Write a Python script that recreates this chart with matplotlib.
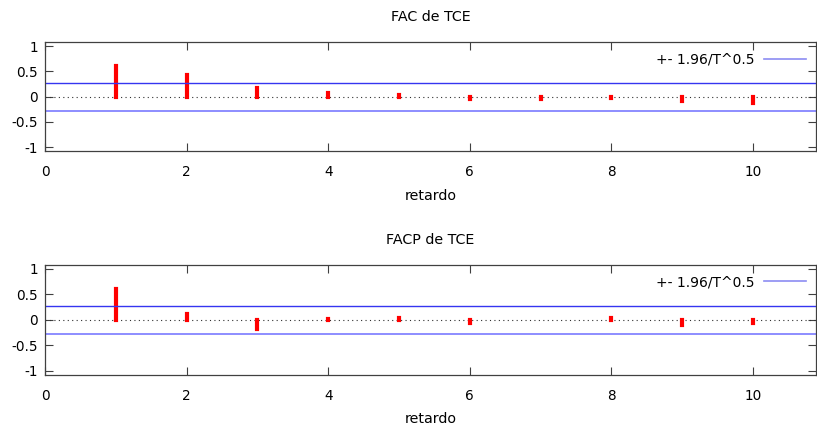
import numpy as np
import matplotlib
matplotlib.use("Agg")
import matplotlib.pyplot as plt

lags = [1, 2, 3, 4, 5, 6, 7, 8, 9, 10]
fac = [0.61, 0.43, 0.18, 0.07, 0.03, -0.04, -0.05, -0.03, -0.085, -0.12]
facp = [0.61, 0.11, -0.175, 0.01, 0.035, -0.06, 0.005, 0.035, -0.10, -0.06]
titles = ["FAC de TCE", "FACP de TCE"]
n_obs = 50
band = 1.96 / np.sqrt(n_obs)

plt.rcParams['font.family'] = ['DejaVu Sans']
plt.rcParams['font.size'] = 9.8

fig = plt.figure(figsize=(8.17, 4.25), dpi=100)
boxes = [[0.0551, 0.6440, 0.9437, 0.2570], [0.0551, 0.1180, 0.9437, 0.2590]]

for box, vals, title in zip(boxes, [fac, facp], titles):
    ax = fig.add_axes(box)
    ax.axhline(0, color='#303030', lw=0.8, ls=(0, (1, 3)))
    ax.vlines(lags, 0, vals, color='#ff0000', lw=3.0, capstyle='projecting')
    ax.axhline(band, color='#3535f0', lw=1.0)
    ax.axhline(-band, color='#8585ff', lw=1.3)
    ax.plot([], [], color='#8c8cf2', lw=1.2, label='+- 1.96/T^0.5')
    ax.set_xlim(0, 10.89)
    ax.set_ylim(-1.08, 1.08)
    ax.set_xticks([0, 2, 4, 6, 8, 10])
    ax.set_yticks([-1, -0.5, 0, 0.5, 1])
    ax.set_yticklabels(['-1', '-0.5', '0', '0.5', '1'])
    ax.tick_params(direction='in', length=6, width=0.8, color='#404040',
                   top=True, right=True, pad=5)
    ax.tick_params(axis='x', pad=10)
    for s in ax.spines.values():
        s.set_color('#404040')
        s.set_linewidth(0.9)
    ax.set_title(title, fontsize=10.3, pad=15)
    ax.set_xlabel('retardo', fontsize=10.3, labelpad=7)
    leg = ax.legend(loc='upper right', frameon=False, markerfirst=False,
                    handlelength=3.0, handletextpad=0.7,
                    borderaxespad=0.35, fontsize=10)

fig.savefig('out.png', dpi=100)
